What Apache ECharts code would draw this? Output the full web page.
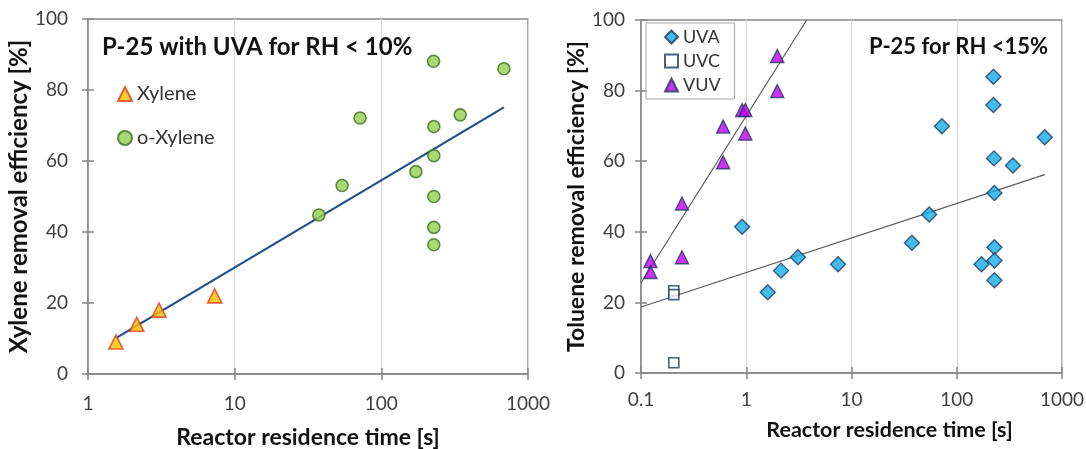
<!DOCTYPE html>
<html>
<head>
<meta charset="utf-8">
<script src="https://cdn.jsdelivr.net/npm/echarts@6/dist/echarts.min.js"></script>
<style>
html,body{margin:0;padding:0;background:#fff;}
#c{width:1086px;height:449px;}
</style>
</head>
<body>
<div id="c"></div>
<script>
// ---------- Left panel data ----------
const xyleneX = [1.55, 2.15, 3.05, 7.3];
const xyleneY = [9, 14, 18, 22];
const oXyleneX = [37.5, 54, 71.6, 172, 227, 228, 228, 228, 228, 228, 345, 685];
const oXyleneY = [44.8, 53.1, 72.1, 57.0, 88.1, 69.7, 61.5, 50.0, 41.3, 36.4, 73.0, 86.0];
const leftTrendX = [1.55, 685];
const leftTrendY = [10.1, 75.1];
const leftXTicks = [1, 10, 100, 1000];

// ---------- Right panel data ----------
const uvaX = [0.914, 1.6, 2.14, 3.1, 7.45, 37.5, 54.7, 72.3, 172, 223, 223, 226, 228, 228, 228, 228, 342, 686];
const uvaY = [41.4, 22.9, 29.0, 32.8, 30.8, 36.9, 44.9, 69.9, 30.8, 83.9, 75.9, 60.8, 51.0, 35.6, 31.9, 26.3, 58.8, 66.8];
const uvcX = [0.205, 0.205, 0.205];
const uvcY = [23.3, 22.2, 2.9];
const vuvX = [0.123, 0.123, 0.245, 0.245, 0.603, 0.603, 0.914, 0.98, 0.98, 1.97, 1.97];
const vuvY = [31.7, 28.6, 48.0, 32.8, 69.8, 59.7, 74.5, 74.5, 67.8, 89.8, 79.9];
const uvaTrendX = [0.1, 686];
const uvaTrendY = [18.7, 56.2];
const vuvTrendX = [0.1, 3.75];
const vuvTrendY = [25.5, 100];
const rightXTicks = [0.1, 1, 10, 100, 1000];
const yTicks = [0, 20, 40, 60, 80, 100];

const pairs = (xs, ys) => xs.map((x, i) => [x, ys[i]]);
const FONT = 'Lato, "Open Sans", sans-serif';
const AX = '#868686';
const GRID = '#d9d9d9';
const NAVY = '#1F3864';

function xAxisMain(gi, min, max, name, gap, margin, nameSize, namePad) {
  return {
    type: 'log', logBase: 10, gridIndex: gi, min: min, max: max, position: 'bottom',
    name: name, nameLocation: 'middle', nameGap: gap,
    nameTextStyle: {fontFamily: FONT, fontSize: nameSize, fontWeight: 'bold', color: '#111', padding: namePad},
    axisLine: {show: true, lineStyle: {color: AX, width: 1.5}},
    axisTick: {show: true, length: 6, lineStyle: {color: AX, width: 1.5}},
    axisLabel: {fontFamily: FONT, fontSize: 19, color: '#404040', margin: margin,
      formatter: v => String(+(+v).toPrecision(6))},
    splitLine: {show: true, lineStyle: {color: GRID, width: 1.2}},
    minorTick: {show: false}
  };
}
function xAxisDup(gi, min, max) {
  return {
    type: 'log', logBase: 10, gridIndex: gi, min: min, max: max, position: 'bottom',
    axisLine: {show: false},
    axisTick: {show: true, inside: true, length: 6, lineStyle: {color: AX, width: 1.5}},
    axisLabel: {show: false}, splitLine: {show: false}
  };
}
function yAxisMain(gi, name, gap, margin, nameSize) {
  return {
    type: 'value', gridIndex: gi, min: yTicks[0], max: yTicks[yTicks.length - 1], interval: 20, position: 'left',
    name: name, nameLocation: 'middle', nameGap: gap,
    nameTextStyle: {fontFamily: FONT, fontSize: nameSize, fontWeight: 'bold', color: '#111'},
    axisLine: {show: true, lineStyle: {color: AX, width: 1.5}},
    axisTick: {show: true, length: 6, lineStyle: {color: AX, width: 1.5}},
    axisLabel: {fontFamily: FONT, fontSize: 19, color: '#404040', margin: margin},
    splitLine: {show: false}
  };
}
function yAxisDup(gi) {
  return {
    type: 'value', gridIndex: gi, min: yTicks[0], max: yTicks[yTicks.length - 1], interval: 20, position: 'left',
    axisLine: {show: false},
    axisTick: {show: true, inside: true, length: 6, lineStyle: {color: AX, width: 1.5}},
    axisLabel: {show: false}, splitLine: {show: false}
  };
}

const chart = echarts.init(document.getElementById('c'), null, {renderer: 'canvas'});
chart.setOption({
  animation: false,
  backgroundColor: '#fff',
  title: [
    {text: 'P-25 with UVA for RH < 10%', left: 97, top: 30,
     textStyle: {fontFamily: FONT, fontSize: 24, fontWeight: 'bold', color: '#111'}},
    {text: 'P-25 for RH <15%', right: 33, top: 31,
     textStyle: {fontFamily: FONT, fontSize: 22, fontWeight: 'bold', color: '#111'}}
  ],
  legend: [
    {data: ['Xylene', 'o-Xylene'], orient: 'vertical', left: 112, top: 79, itemGap: 24,
     itemWidth: 14, itemHeight: 14,
     textStyle: {fontFamily: FONT, fontSize: 20, color: '#333'}},
    {data: ['UVA', 'UVC', 'VUV'], orient: 'vertical', left: 646, top: 23, itemGap: 6,
     itemWidth: 13, itemHeight: 13, padding: [5, 14, 5, 18],
     borderColor: '#a6a6a6', borderWidth: 1,
     textStyle: {fontFamily: FONT, fontSize: 18, color: '#333'}}
  ],
  grid: [
    {left: 88, right: 558, top: 19, bottom: 75, containLabel: false, outerBoundsMode: 'none',
     show: true, borderColor: AX, borderWidth: 1.5, backgroundColor: 'transparent'},
    {left: 641, right: 24, top: 20, bottom: 76, containLabel: false, outerBoundsMode: 'none',
     show: true, borderColor: AX, borderWidth: 1.5, backgroundColor: 'transparent'}
  ],
  xAxis: [
    xAxisMain(0, leftXTicks[0], leftXTicks[leftXTicks.length - 1], 'Reactor residence time [s]', 52, 20, 23, 0),
    xAxisMain(1, rightXTicks[0], rightXTicks[rightXTicks.length - 1], 'Reactor residence time [s]', 46, 17, 21.5, [0, 0, 0, 76]),
    xAxisDup(0, leftXTicks[0], leftXTicks[leftXTicks.length - 1]),
    xAxisDup(1, rightXTicks[0], rightXTicks[rightXTicks.length - 1])
  ],
  yAxis: [
    yAxisMain(0, 'Xylene removal efficiency [%]', 50, 20, 24),
    yAxisMain(1, 'Toluene removal efficiency [%]', 34, 16, 23),
    yAxisDup(0),
    yAxisDup(1)
  ],
  series: [
    {name: 'Left trend', type: 'line', xAxisIndex: 0, yAxisIndex: 0, data: pairs(leftTrendX, leftTrendY),
     showSymbol: false, symbol: 'none', lineStyle: {color: '#1F4E8C', width: 2.2}, z: 2, silent: true},
    {name: 'Xylene', type: 'scatter', xAxisIndex: 0, yAxisIndex: 0, data: pairs(xyleneX, xyleneY),
     symbol: 'triangle', symbolSize: 14,
     itemStyle: {color: '#FFC000', borderColor: '#D9401A', borderWidth: 1.6}, z: 3},
    {name: 'o-Xylene', type: 'scatter', xAxisIndex: 0, yAxisIndex: 0, data: pairs(oXyleneX, oXyleneY),
     symbol: 'circle', symbolSize: 12,
     itemStyle: {color: '#92D050', borderColor: '#3F6E1E', borderWidth: 1.6}, z: 3},

    {name: 'UVA trend', type: 'line', xAxisIndex: 1, yAxisIndex: 1, data: pairs(uvaTrendX, uvaTrendY),
     showSymbol: false, symbol: 'none', lineStyle: {color: '#595959', width: 1.2}, z: 2, silent: true},
    {name: 'VUV trend', type: 'line', xAxisIndex: 1, yAxisIndex: 1, data: pairs(vuvTrendX, vuvTrendY),
     showSymbol: false, symbol: 'none', lineStyle: {color: '#595959', width: 1.2}, z: 2, silent: true},
    {name: 'UVA', type: 'scatter', xAxisIndex: 1, yAxisIndex: 1, data: pairs(uvaX, uvaY),
     symbol: 'diamond', symbolSize: 15,
     itemStyle: {color: '#12AEE8', borderColor: NAVY, borderWidth: 1.4}, z: 3},
    {name: 'UVC', type: 'scatter', xAxisIndex: 1, yAxisIndex: 1, data: pairs(uvcX, uvcY),
     symbol: 'rect', symbolSize: 10,
     itemStyle: {color: '#ffffff', borderColor: NAVY, borderWidth: 1.6}, z: 3},
    {name: 'VUV', type: 'scatter', xAxisIndex: 1, yAxisIndex: 1, data: pairs(vuvX, vuvY),
     symbol: 'triangle', symbolSize: 13,
     itemStyle: {color: '#C000F0', borderColor: NAVY, borderWidth: 1.4}, z: 3}
  ]
});
</script>
</body>
</html>
